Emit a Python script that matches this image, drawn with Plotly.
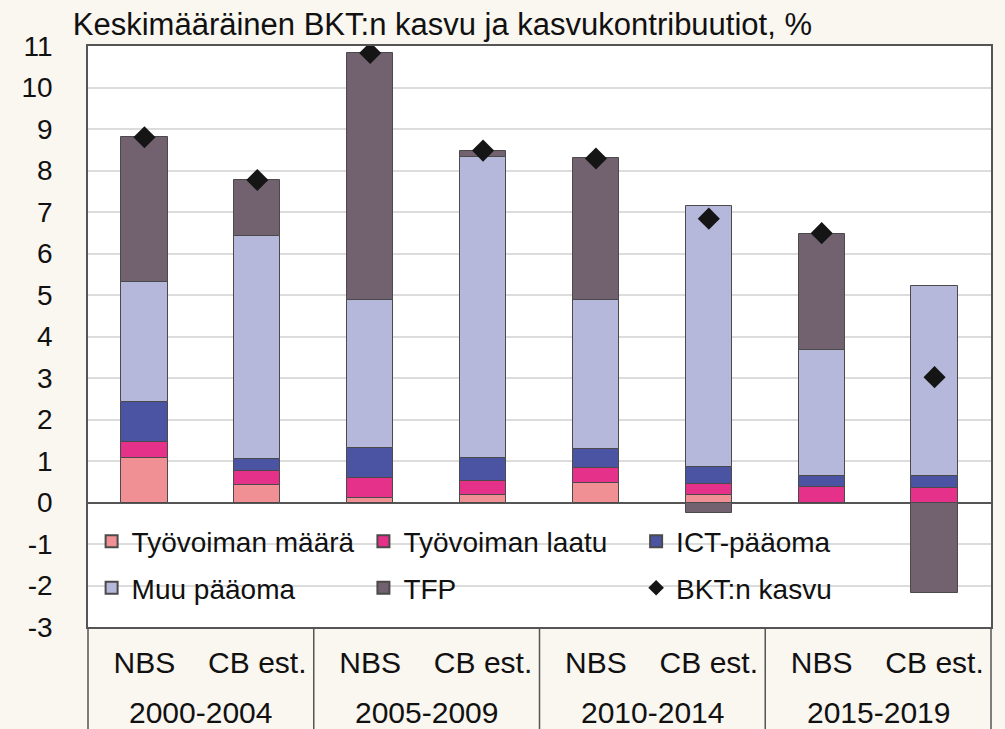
import plotly.graph_objects as go

# ---- data ----
periods = ["2000-2004", "2005-2009", "2010-2014", "2015-2019"]
sources = ["NBS", "CB est."]
categories = [(p, s) for p in periods for s in sources]

tyovoiman_maara = [1.08, 0.42, 0.12, 0.18, 0.46, 0.18, 0.00, 0.00]
tyovoiman_laatu = [0.39, 0.33, 0.46, 0.34, 0.36, 0.26, 0.37, 0.35]
ict_paaoma = [0.94, 0.31, 0.73, 0.55, 0.48, 0.41, 0.28, 0.29]
muu_paaoma = [2.91, 5.37, 3.58, 7.25, 3.58, 6.29, 3.03, 4.58]
tfp = [3.49, 1.34, 5.94, 0.16, 3.41, -0.26, 2.80, -2.18]
bkt_kasvu = [8.80, 7.77, 10.83, 8.48, 8.29, 6.84, 6.49, 3.02]

y_ticks = list(range(-3, 12))
y_tick_labels = [str(v) for v in y_ticks]
title_text = "Keskimääräinen BKT:n kasvu ja kasvukontribuutiot, %"

# ---- styling ----
BG = "#FAF6F0"
LINE = "#555555"
FONT = "Liberation Sans, Arial, sans-serif"

x_pos = list(range(len(categories)))
sub_labels = [c[1] for c in categories]

fig = go.Figure()

series = [
    ("Työvoiman määrä", tyovoiman_maara, "#F19094", "legend"),
    ("Työvoiman laatu", tyovoiman_laatu, "#E6318A", "legend2"),
    ("ICT-pääoma", ict_paaoma, "#4B53A3", "legend3"),
    ("Muu pääoma", muu_paaoma, "#B5B8DB", "legend"),
    ("TFP", tfp, "#72626F", "legend2"),
]
for name, vals, color, lg in series:
    fig.add_trace(go.Bar(
        x=x_pos, y=vals, name=name, width=0.41,
        marker=dict(color=color, line=dict(color="#4a4a4a", width=1)),
        legend=lg, legendgroup=name,
    ))

fig.add_trace(go.Scatter(
    x=x_pos, y=bkt_kasvu, name="BKT:n kasvu", mode="markers",
    marker=dict(symbol="diamond", size=17, color="#151515"),
    legend="legend3", legendgroup="BKT:n kasvu",
))

n_groups = len(periods)
per_group = len(sources)

shapes = []
# white panel behind the legend (above gridlines, below bars)
shapes.append(dict(type="rect", xref="paper", yref="y", x0=0.002, x1=0.906,
                   y0=-2.97, y1=-0.06, fillcolor="white", line=dict(width=0),
                   layer="between"))
# category box dividers
for k in range(n_groups + 1):
    shapes.append(dict(type="line", xref="paper", yref="paper",
                       x0=k / n_groups, x1=k / n_groups, y0=0, y1=-0.3,
                       line=dict(color=LINE, width=1.5)))

annotations = []
for g, p in enumerate(periods):
    annotations.append(dict(
        x=g * per_group + (per_group - 1) / 2, xref="x",
        y=-0.148, yref="paper", text=p, showarrow=False,
        xanchor="center", yanchor="middle",
        font=dict(family=FONT, size=30, color="#111111"),
    ))

legend_common = dict(
    orientation="v", bgcolor="rgba(0,0,0,0)", borderwidth=0,
    font=dict(family=FONT, size=28, color="#111111"),
    traceorder="grouped", tracegroupgap=7, itemsizing="constant",
    xanchor="left", yanchor="top", y=0.19,
)

fig.update_layout(
    width=997, height=721,
    margin=dict(l=80, r=12, t=38, b=102),
    paper_bgcolor=BG, plot_bgcolor="white",
    barmode="relative", bargap=0,
    font=dict(family=FONT, color="#111111"),
    title=dict(text=title_text, x=0.065, xanchor="left", xref="container",
               y=0.977, yanchor="middle", yref="container",
               font=dict(family=FONT, size=31, color="#111111")),
    legend=dict(x=0.004, **legend_common),
    legend2=dict(x=0.305, **legend_common),
    legend3=dict(x=0.607, **legend_common),
    shapes=shapes,
    annotations=annotations,
    showlegend=True,
)

fig.update_xaxes(
    range=[-0.5, len(categories) - 0.5],
    tickmode="array", tickvals=x_pos, ticktext=sub_labels,
    tickfont=dict(family=FONT, size=30, color="#111111"),
    ticks="outside", ticklen=8, tickcolor="rgba(0,0,0,0)",
    showgrid=False, zeroline=False,
    showline=True, linecolor=LINE, linewidth=1.5, mirror=True,
)
fig.update_yaxes(
    range=[-3, 11],
    tickmode="array", tickvals=y_ticks, ticktext=y_tick_labels,
    tickfont=dict(family=FONT, size=28, color="#111111"),
    ticklabelstandoff=28,
    showgrid=True, gridcolor="#DCDCDC", gridwidth=1.5,
    zeroline=True, zerolinecolor=LINE, zerolinewidth=1.5,
    showline=True, linecolor=LINE, linewidth=1.5, mirror=True,
)

fig.write_html(
    "out.html",
    post_script="document.body.style.background = '%s';" % BG,
)
